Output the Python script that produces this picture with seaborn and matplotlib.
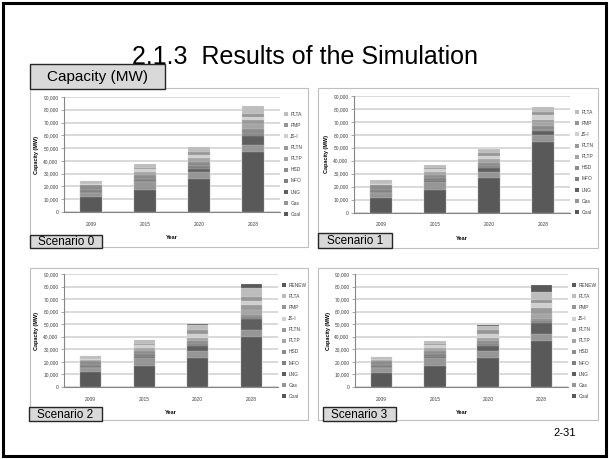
import matplotlib
matplotlib.use("Agg")
import numpy as np
import pandas as pd
import seaborn as sns
import matplotlib.pyplot as plt
from matplotlib.patches import Rectangle, Patch
from matplotlib.ticker import FuncFormatter

# chart data (capacity in MW)
years = ["2009", "2015", "2020", "2028"]
sources = ["Coal", "Gas", "LNG", "MFO", "HSD", "PLTP", "PLTN", "JS-I", "PMP", "PLTA", "RENEW"]
colors = ["#595959", "#969696", "#5f5f5f", "#808080", "#8c8c8c", "#a5a5a5",
          "#999999", "#d0d0d0", "#969696", "#bdbdbd", "#595959"]

scenario0 = {
    "Coal": [11500, 17200, 26000, 47000],
    "Gas": [3500, 6000, 5500, 5200],
    "LNG": [0, 500, 2500, 7300],
    "MFO": [2500, 2500, 2000, 1200],
    "HSD": [3500, 2500, 3500, 4500],
    "PLTP": [300, 2500, 2500, 4000],
    "PLTN": [0, 0, 0, 2500],
    "JS-I": [700, 2500, 2500, 3000],
    "PMP": [0, 500, 2500, 2000],
    "PLTA": [2500, 3000, 3500, 6000],
}
scenario1 = {
    "Coal": [11500, 17500, 26400, 54300],
    "Gas": [3500, 6000, 5100, 5200],
    "LNG": [0, 500, 3000, 3300],
    "MFO": [2500, 2300, 1500, 1200],
    "HSD": [3500, 2500, 2500, 3000],
    "PLTP": [300, 2200, 2500, 3000],
    "PLTN": [0, 0, 0, 1500],
    "JS-I": [700, 2500, 2500, 3500],
    "PMP": [0, 500, 2500, 2500],
    "PLTA": [2800, 2800, 3000, 4200],
}
scenario2 = {
    "Coal": [11600, 17100, 23300, 40000],
    "Gas": [3500, 6000, 5500, 5500],
    "LNG": [0, 800, 4200, 8800],
    "MFO": [2500, 2300, 1200, 1200],
    "HSD": [3500, 2500, 2300, 2200],
    "PLTP": [300, 2500, 2500, 4000],
    "PLTN": [0, 0, 0, 4000],
    "JS-I": [700, 2500, 3500, 3000],
    "PMP": [0, 600, 3000, 3000],
    "PLTA": [2200, 2800, 3500, 7000],
    "RENEW": [0, 200, 1000, 3000],
}
scenario3 = {
    "Coal": [11500, 17100, 22700, 37000],
    "Gas": [3500, 6000, 5600, 5300],
    "LNG": [0, 800, 4500, 8700],
    "MFO": [2500, 2300, 1200, 1300],
    "HSD": [3500, 2500, 2500, 2200],
    "PLTP": [300, 2300, 2500, 4000],
    "PLTN": [0, 0, 0, 4500],
    "JS-I": [500, 2500, 3500, 4000],
    "PMP": [0, 600, 3000, 2500],
    "PLTA": [2200, 2700, 3000, 6500],
    "RENEW": [0, 200, 900, 5500],
}

W, H = 609, 459
FONT = "Liberation Sans"
plt.rcParams["font.family"] = [FONT, "DejaVu Sans"]

fig = plt.figure(figsize=(W / 100, H / 100), dpi=100)
fig.patch.set_facecolor("white")


def fx(x):
    return x / W


def fy(y):
    return 1 - y / H


def frect(x0, y0, x1, y1, **kw):
    r = Rectangle((fx(x0), fy(y1)), (x1 - x0) / W, (y1 - y0) / H,
                  transform=fig.transFigure, **kw)
    fig.patches.append(r)
    return r


# slide frame
frect(3, 3, 606, 456, fill=False, edgecolor="black", linewidth=2.2, zorder=0)

fig.text(fx(305), fy(57), "2.1.3  Results of the Simulation", fontsize=18,
         ha="center", va="center", color="black")

# (data, label, axes px, outer box px, scenario box px, legend anchor px)
panels = [
    (scenario0, "Scenario 0", (64, 97, 280, 212), (30, 88, 308, 247), (30, 235, 102, 248), (284, 112)),
    (scenario1, "Scenario 1", (354, 96, 570, 212.5), (318, 88, 598, 248), (318, 233, 392, 248), (575, 110)),
    (scenario2, "Scenario 2", (64, 274, 278, 387), (30, 268, 308, 420), (29, 407, 102, 421), (282, 283)),
    (scenario3, "Scenario 3", (355, 274, 568, 387), (318, 268, 598, 420), (323, 407, 396, 421), (572, 283)),
]

fmt = FuncFormatter(lambda v, p: f"{int(v):,}")

for data, label, (l, t, r, b), box, sbox, leg in panels:
    frect(*box, fill=False, edgecolor="#bfbfbf", linewidth=0.8, zorder=1)

    ax = fig.add_axes([fx(l), fy(b), (r - l) / W, (b - t) / H])
    names = [s for s in sources if s in data]
    df = pd.DataFrame(data, index=years)[names]
    cum = df.cumsum(axis=1)

    # draw cumulative totals from the top series down so each layer shows
    for name in reversed(names):
        c = colors[sources.index(name)]
        sns.barplot(x=years, y=cum[name].values, color=c, width=0.4,
                    edgecolor="#e6e6e6", linewidth=0.15, errorbar=None, ax=ax,
                    zorder=3)

    ax.set_ylim(0, 90000)
    ax.set_xlim(-0.5, 3.5)
    ax.set_yticks(np.arange(0, 90001, 10000))
    ax.yaxis.set_major_formatter(fmt)
    ax.grid(axis="y", color="#d9d9d9", linewidth=1.4, zorder=0)
    ax.set_axisbelow(True)
    for s in ["top", "right"]:
        ax.spines[s].set_visible(False)
    for s in ["left", "bottom"]:
        ax.spines[s].set_color("#868686")
        ax.spines[s].set_linewidth(0.8)
    ax.tick_params(axis="y", labelsize=3.5, length=2, width=0.5, colors="#868686",
                   labelcolor="#404040", pad=2)
    ax.tick_params(axis="x", labelsize=3.5, length=0, labelcolor="#404040", pad=7)
    ax.set_xlabel("Year", fontsize=4, fontweight="bold", labelpad=6)
    ax.set_ylabel("Capacity (MW)", fontsize=4, fontweight="bold")
    ax.yaxis.set_label_coords(-0.115, 0.5)

    handles = [Patch(facecolor=colors[sources.index(n)], edgecolor="none", label=n)
               for n in reversed(names)]
    ax.legend(handles=handles, loc="upper left", bbox_to_anchor=(fx(leg[0]), fy(leg[1])),
              bbox_transform=fig.transFigure, frameon=False, fontsize=3.5,
              handlelength=0.9, handleheight=0.9, handletextpad=0.4,
              labelspacing=1.25, borderpad=0, borderaxespad=0, labelcolor="#404040")

    frect(*sbox, facecolor="#d9d9d9", edgecolor="#262626", linewidth=1.0, zorder=5)
    fig.text(fx((sbox[0] + sbox[2]) / 2), fy((sbox[1] + sbox[3]) / 2 + 0.5), label,
             fontsize=8.5, ha="center", va="center", zorder=6)

# capacity header box
frect(30, 64, 165, 89, facecolor="#d9d9d9", edgecolor="#262626", linewidth=1.0, zorder=5)
fig.text(fx(97.5), fy(77), "Capacity (MW)", fontsize=11, ha="center", va="center", zorder=6)

fig.text(fx(565), fy(433), "2-31", fontsize=8, ha="center", va="center")

fig.savefig("out.png", dpi=100)
